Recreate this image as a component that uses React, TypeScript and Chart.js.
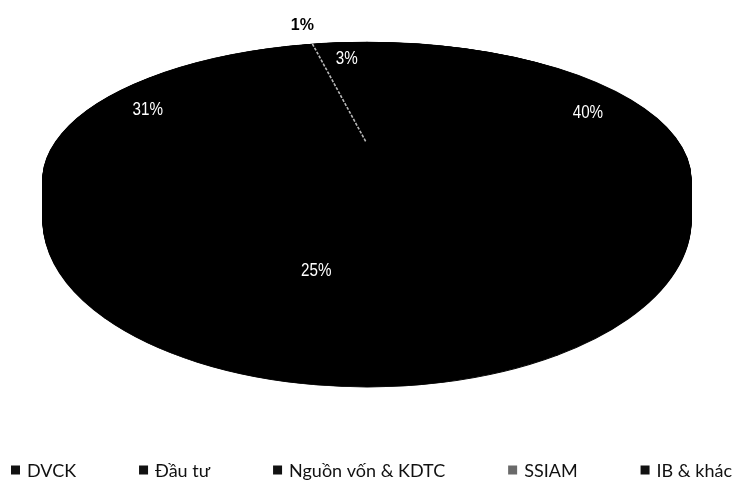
import React, { useEffect, useRef } from "react";
import { Chart, registerables } from "chart.js";

Chart.register(...registerables);

// ---- data ----
const categories = ["DVCK", "Đầu tư", "Nguồn vốn & KDTC", "SSIAM", "IB & khác"];
const shares = [40, 25, 31, 1, 3];
const percentLabels = ["40%", "25%", "31%", "1%", "3%"];
const sliceColors = ["#000000", "#000000", "#000000", "#000000", "#000000"];
const legendColors = ["#111111", "#111111", "#111111", "#6a6a6a", "#111111"];

// ---- layout of the tilted pie (screen geometry) ----
const TOP = { cx: 367, cy: 180, rx: 324, ry: 138 };
const BOTTOM = { cy: 220, ry: 167 };
const PROJ = { cx: 366, cy: 142, A: 311.5, B: 127.5, p: 0.275 };
const LAYERS = 60;

function project(angle: number, f: number) {
  const u = Math.cos(angle) * f;
  const v = Math.sin(angle) * f;
  const w = 1 - PROJ.p * v;
  return { x: PROJ.cx + (PROJ.A * u) / w, y: PROJ.cy + (PROJ.B * v) / w };
}

const pie3d = {
  id: "pie3d",
  beforeDatasetsDraw(chart: any) {
    const meta = chart.getDatasetMeta(0);
    const arcs = meta.data;
    if (!arcs || !arcs.length) return;
    const a0: any = arcs[0];
    const r = a0.outerRadius;
    const ox = a0.x;
    const oy = a0.y;
    const ctx = chart.ctx;
    const apply = (cy: number, ry: number) => {
      ctx.translate(TOP.cx, cy);
      ctx.scale(TOP.rx / r, ry / r);
      ctx.translate(-ox, -oy);
    };
    for (let i = LAYERS; i >= 1; i--) {
      const t = i / LAYERS;
      ctx.save();
      apply(TOP.cy + (BOTTOM.cy - TOP.cy) * t, TOP.ry + (BOTTOM.ry - TOP.ry) * t);
      arcs.forEach((a: any) => a.draw(ctx));
      ctx.restore();
    }
    ctx.save();
    apply(TOP.cy, TOP.ry);
  },
  afterDatasetsDraw(chart: any) {
    const meta = chart.getDatasetMeta(0);
    const arcs = meta.data;
    if (!arcs || !arcs.length) return;
    const ctx = chart.ctx;
    ctx.restore();

    // thin sliver of the smallest slice
    const smallest = shares.indexOf(Math.min(...shares));
    const s: any = arcs[smallest];
    const mid = (s.startAngle + s.endAngle) / 2;
    const rim = project(mid, 1);
    const c = project(mid, 0);
    ctx.save();
    ctx.strokeStyle = "#b8b8b8";
    ctx.lineWidth = 1.6;
    ctx.setLineDash([3, 1.5]);
    ctx.beginPath();
    ctx.moveTo(rim.x, rim.y);
    ctx.lineTo(c.x, c.y);
    ctx.stroke();
    ctx.restore();

    // percentage labels
    arcs.forEach((a: any, i: number) => {
      const m = (a.startAngle + a.endAngle) / 2;
      const outside = shares[i] < 2;
      const pt = project(m, outside ? 1.25 : 0.8);
      ctx.save();
      ctx.textAlign = "center";
      ctx.textBaseline = "middle";
      ctx.translate(pt.x, pt.y);
      if (outside) {
        ctx.fillStyle = "#000000";
        ctx.font = 'bold 16px "Liberation Sans", Arial, sans-serif';
      } else {
        ctx.scale(0.8, 1);
        ctx.fillStyle = "#ffffff";
        ctx.font = '19px "Liberation Sans", Arial, sans-serif';
      }
      ctx.fillText(percentLabels[i], 0, 0);
      ctx.restore();
    });
  },
  afterDraw(chart: any) {
    // legend row
    const ctx = chart.ctx;
    ctx.save();
    ctx.font = '18px Lato, "Open Sans", sans-serif';
    ctx.textBaseline = "middle";
    const box = 9;
    const gapText = 7;
    const left = 11;
    const right = 732;
    const widths = categories.map((c) => box + gapText + ctx.measureText(c).width);
    const total = widths.reduce((p, q) => p + q, 0);
    const gap = (right - left - total) / (categories.length - 1);
    let x = left;
    const y = 470;
    categories.forEach((c, i) => {
      ctx.fillStyle = legendColors[i];
      ctx.fillRect(x, y - box / 2, box, box);
      ctx.fillStyle = "#111111";
      ctx.fillText(c, x + box + gapText, y + 1);
      x += widths[i] + gap;
    });
    ctx.restore();
  },
};

export default function App() {
  const ref = useRef<HTMLCanvasElement | null>(null);
  useEffect(() => {
    document.body.style.margin = "0";
    if (!ref.current) return;
    const chart = new Chart(ref.current, {
      type: "pie",
      data: {
        labels: categories,
        datasets: [
          {
            data: shares,
            backgroundColor: sliceColors,
            borderColor: "#000000",
            borderWidth: 1,
            clip: false as any,
          } as any,
        ],
      },
      options: {
        responsive: false,
        animation: false,
        rotation: 0,
        layout: { padding: 0 },
        plugins: {
          legend: { display: false },
          tooltip: { enabled: false },
        },
      },
      plugins: [pie3d as any],
    });
    return () => chart.destroy();
  }, []);
  return (
    <div style={{ width: 739, height: 480, background: "#ffffff" }}>
      <canvas ref={ref} width={739} height={480} />
    </div>
  );
}
